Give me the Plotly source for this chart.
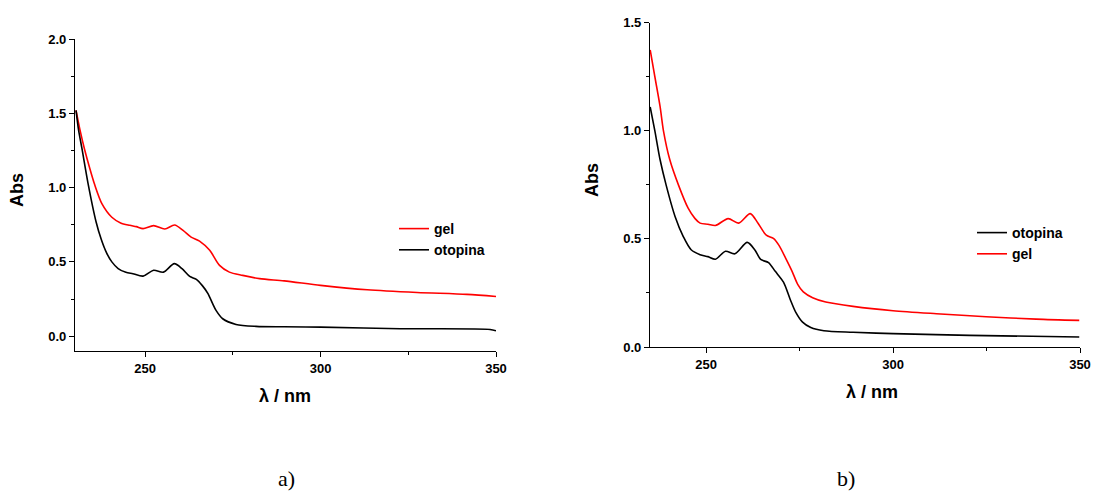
import plotly.graph_objects as go

# panel a) readings
wl_a_gel = [230.3, 231.5, 232.7, 234.2, 235.6, 237.7, 240.5, 243.0, 245.6, 247.5, 249.4, 252.4,
            255.6, 258.4, 260.8, 263.1, 265.5, 268.4, 271.2, 274.0, 277.8, 282.6, 289.6, 300.0,
            313.3, 327.5, 341.7, 350.0]
abs_a_gel = [1.52, 1.38, 1.26, 1.13, 1.02, 0.89, 0.80, 0.762, 0.746, 0.737, 0.724, 0.744,
             0.721, 0.748, 0.712, 0.667, 0.64, 0.578, 0.476, 0.431, 0.409, 0.387, 0.372, 0.342,
             0.312, 0.294, 0.281, 0.267]
wl_a_sol = [230.3, 231.0, 232.0, 233.7, 236.0, 237.5, 239.0, 240.5, 242.3, 244.5, 246.5, 249.4,
            252.4, 255.2, 258.3, 260.5, 262.7, 264.6, 266.3, 267.9, 269.2, 270.2, 272.1, 275.9,
            281.6, 289.6, 300.0, 322.7, 348.3, 350.0]
abs_a_sol = [1.52, 1.39, 1.26, 1.03, 0.77, 0.65, 0.56, 0.50, 0.455, 0.43, 0.42, 0.404,
             0.443, 0.431, 0.488, 0.454, 0.402, 0.382, 0.34, 0.286, 0.22, 0.173, 0.117, 0.079,
             0.066, 0.063, 0.061, 0.05, 0.045, 0.036]

# panel b) readings
wl_b_gel = [235.05, 236.3, 237.7, 238.6, 240.3, 242.6, 245.2, 247.0, 248.4, 250.5, 252.5, 255.9,
            258.7, 261.8, 263.8, 266.1, 268.0, 269.5, 271.3, 273.0, 274.5, 276.0, 278.5, 282.0,
            289.3, 300.0, 311.6, 324.9, 338.3, 349.8]
abs_b_gel = [1.374, 1.25, 1.112, 1.00, 0.866, 0.75, 0.642, 0.595, 0.573, 0.568, 0.562, 0.594,
             0.573, 0.617, 0.575, 0.517, 0.502, 0.47, 0.41, 0.35, 0.29, 0.255, 0.228, 0.208,
             0.188, 0.168, 0.154, 0.14, 0.129, 0.123]
wl_b_sol = [235.05, 236.3, 237.7, 239.3, 241.7, 243.9, 246.0, 248.4, 250.5, 252.5, 255.2, 257.7,
            261.0, 263.0, 264.6, 266.7, 268.5, 270.7, 272.5, 274.0, 275.8, 278.0, 281.5, 289.3,
            300.0, 320.5, 349.8]
abs_b_sol = [1.11, 1.00, 0.866, 0.75, 0.604, 0.511, 0.45, 0.427, 0.418, 0.406, 0.443, 0.431,
             0.484, 0.45, 0.405, 0.39, 0.35, 0.30, 0.22, 0.16, 0.115, 0.09, 0.075, 0.068,
             0.062, 0.054, 0.046]

FONT = "Liberation Sans, Arial, sans-serif"
W, H = 1108, 493
OFF = 8  # page body margin


def px(x):
    return (x - OFF) / W


def py(y):
    return (H - (y - OFF)) / H


fig = go.Figure()

# left panel: gel listed first
fig.add_trace(go.Scatter(x=wl_a_gel, y=abs_a_gel, mode="lines", name="gel",
                         line=dict(color="#ff0000", width=1.6, shape="spline", smoothing=0.8),
                         xaxis="x", yaxis="y", legend="legend"))
fig.add_trace(go.Scatter(x=wl_a_sol, y=abs_a_sol, mode="lines", name="otopina",
                         line=dict(color="#000000", width=1.6, shape="spline", smoothing=0.8),
                         xaxis="x", yaxis="y", legend="legend"))
# right panel: otopina listed first
fig.add_trace(go.Scatter(x=wl_b_sol, y=abs_b_sol, mode="lines", name="otopina",
                         line=dict(color="#000000", width=1.6, shape="spline", smoothing=0.8),
                         xaxis="x2", yaxis="y2", legend="legend2"))
fig.add_trace(go.Scatter(x=wl_b_gel, y=abs_b_gel, mode="lines", name="gel",
                         line=dict(color="#ff0000", width=1.6, shape="spline", smoothing=0.8),
                         xaxis="x2", yaxis="y2", legend="legend2"))

tickfont = dict(family=FONT, size=13, color="black", weight="bold")
axis_common = dict(showline=True, linecolor="black", linewidth=1.3, ticks="outside",
                   ticklen=5, tickwidth=1.2, tickcolor="black", showgrid=False,
                   zeroline=False, tickfont=tickfont, mirror=False, automargin=False)

fig.update_layout(
    width=W, height=H,
    margin=dict(l=0, r=0, t=0, b=0, autoexpand=False),
    paper_bgcolor="white", plot_bgcolor="white",
    xaxis=dict(domain=[px(75), px(496)], anchor="y", range=[230, 350],
               tickvals=[250, 300, 350],
               minor=dict(tickvals=[275, 325], ticks="outside", ticklen=3, tickcolor="black"),
               **axis_common),
    yaxis=dict(domain=[py(351), py(39)], anchor="x", range=[-0.1, 2.0],
               tickvals=[0, 0.5, 1.0, 1.5, 2.0], tickformat=".1f",
               minor=dict(tickvals=[0.25, 0.75, 1.25, 1.75], ticks="outside", ticklen=3,
                          tickcolor="black"),
               **axis_common),
    xaxis2=dict(domain=[px(650), px(1080)], anchor="y2", range=[235, 350],
                tickvals=[250, 300, 350],
                minor=dict(tickvals=[275, 325], ticks="outside", ticklen=3, tickcolor="black"),
                **axis_common),
    yaxis2=dict(domain=[py(347), py(22.7)], anchor="x2", range=[0, 1.5],
                tickvals=[0, 0.5, 1.0, 1.5], tickformat=".1f",
                minor=dict(tickvals=[0.25, 0.75, 1.25], ticks="outside", ticklen=3,
                           tickcolor="black"),
                **axis_common),
    legend=dict(x=px(394), y=py(213), xanchor="left", yanchor="top",
                bgcolor="rgba(0,0,0,0)", tracegroupgap=0,
                font=dict(family=FONT, size=14, color="black", weight="bold")),
    legend2=dict(x=px(972), y=py(217), xanchor="left", yanchor="top",
                 bgcolor="rgba(0,0,0,0)", tracegroupgap=0,
                 font=dict(family=FONT, size=14, color="black", weight="bold")),
)

title_font = dict(family=FONT, size=18, color="black", weight="bold")
annots = [
    dict(text="Abs", x=px(17), y=py(190), textangle=-90, font=title_font),
    dict(text="λ / nm", x=px(285), y=py(396), font=title_font),
    dict(text="Abs", x=px(592), y=py(180), textangle=-90, font=title_font),
    dict(text="λ / nm", x=px(872), y=py(392), font=title_font),
    dict(text="a)", x=px(286), y=py(478),
         font=dict(family="Liberation Serif, Times New Roman, serif", size=22, color="black")),
    dict(text="b)", x=px(846), y=py(478),
         font=dict(family="Liberation Serif, Times New Roman, serif", size=22, color="black")),
]
for a in annots:
    fig.add_annotation(xref="paper", yref="paper", showarrow=False,
                       xanchor="center", yanchor="middle", **a)

fig.write_html("out.html")
